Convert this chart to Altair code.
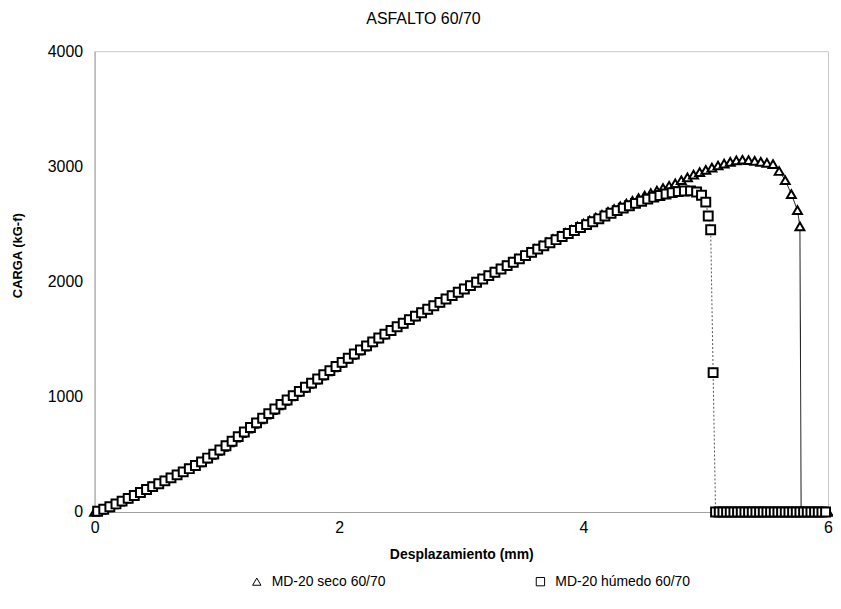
import altair as alt
import pandas as pd

# ---- data ----
grid_x = [
    0.00, 0.05, 0.10, 0.15, 0.20, 0.25, 0.30, 0.35, 0.40, 0.45,
    0.50, 0.55, 0.60, 0.65, 0.70, 0.75, 0.80, 0.85, 0.90, 0.95,
    1.00, 1.05, 1.10, 1.15, 1.20, 1.25, 1.30, 1.35, 1.40, 1.45,
    1.50, 1.55, 1.60, 1.65, 1.70, 1.75, 1.80, 1.85, 1.90, 1.95,
    2.00, 2.05, 2.10, 2.15, 2.20, 2.25, 2.30, 2.35, 2.40, 2.45,
    2.50, 2.55, 2.60, 2.65, 2.70, 2.75, 2.80, 2.85, 2.90, 2.95,
    3.00, 3.05, 3.10, 3.15, 3.20, 3.25, 3.30, 3.35, 3.40, 3.45,
    3.50, 3.55, 3.60, 3.65, 3.70, 3.75, 3.80, 3.85, 3.90, 3.95,
    4.00, 4.05, 4.10, 4.15, 4.20, 4.25, 4.30, 4.35, 4.40, 4.45,
    4.50, 4.55, 4.60, 4.65, 4.70, 4.75, 4.80, 4.85, 4.90, 4.95,
    5.00, 5.05, 5.10, 5.15, 5.20, 5.25, 5.30, 5.35, 5.40, 5.45,
    5.50, 5.55, 5.60, 5.65, 5.70, 5.75,
]

seco_x = grid_x + [5.77, 5.78, 5.80, 5.83, 5.86, 5.89, 5.92, 5.95, 5.98, 6.00]
seco_y = [
    0, 18, 40, 65, 90, 115, 140, 167, 193, 218,
    243, 268, 294, 320, 345, 372, 400, 430, 462, 495,
    530, 566, 605, 645, 685, 724, 764, 804, 844, 884,
    925, 965, 1003, 1040, 1076, 1112, 1148, 1184, 1220, 1256,
    1292, 1328, 1364, 1400, 1436, 1472, 1506, 1540, 1572, 1604,
    1636, 1667, 1698, 1728, 1758, 1788, 1818, 1848, 1877, 1906,
    1935, 1964, 1993, 2022, 2051, 2080, 2109, 2138, 2167, 2196,
    2225, 2254, 2283, 2312, 2340, 2368, 2396, 2423, 2450, 2477,
    2503, 2529, 2555, 2580, 2605, 2630, 2654, 2678, 2701, 2724,
    2746, 2768, 2790, 2811, 2832, 2852, 2880, 2905, 2928, 2950,
    2970, 2990, 3008, 3025, 3040, 3052, 3058, 3055, 3048, 3040,
    3030, 3020, 2960, 2880, 2760, 2620,
    2480, 0, 0, 0, 0, 0, 0, 0, 0, 0,
]

humedo_x = [
    0.025, 0.075, 0.125, 0.175, 0.225, 0.275, 0.325, 0.375, 0.425, 0.475,
    0.525, 0.575, 0.625, 0.675, 0.725, 0.775, 0.825, 0.875, 0.925, 0.975,
    1.025, 1.075, 1.125, 1.175, 1.225, 1.275, 1.325, 1.375, 1.425, 1.475,
    1.525, 1.575, 1.625, 1.675, 1.725, 1.775, 1.825, 1.875, 1.925, 1.975,
    2.025, 2.075, 2.125, 2.175, 2.225, 2.275, 2.325, 2.375, 2.425, 2.475,
    2.525, 2.575, 2.625, 2.675, 2.725, 2.775, 2.825, 2.875, 2.925, 2.975,
    3.025, 3.075, 3.125, 3.175, 3.225, 3.275, 3.325, 3.375, 3.425, 3.475,
    3.525, 3.575, 3.625, 3.675, 3.725, 3.775, 3.825, 3.875, 3.925, 3.975,
    4.025, 4.075, 4.125, 4.175, 4.225, 4.275, 4.325, 4.375, 4.425, 4.475,
    4.525, 4.575, 4.625, 4.675, 4.725, 4.775, 4.825, 4.875, 4.925, 4.965,
    5.000, 5.020, 5.040, 5.060, 5.080,
    5.11, 5.14, 5.17, 5.20, 5.23, 5.26, 5.29, 5.32, 5.35, 5.38,
    5.41, 5.44, 5.47, 5.50, 5.53, 5.56, 5.59, 5.62, 5.65, 5.68,
    5.71, 5.74, 5.77, 5.80, 5.83, 5.86, 5.89, 5.92, 5.95, 5.98,
]
humedo_y = [
    6, 24, 46, 70, 94, 118, 143, 169, 195, 220,
    245, 270, 296, 322, 348, 376, 404, 435, 468, 502,
    538, 575, 614, 654, 694, 734, 774, 814, 854, 894,
    934, 972, 1010, 1047, 1083, 1119, 1155, 1191, 1227, 1263,
    1299, 1335, 1371, 1407, 1442, 1477, 1511, 1544, 1576, 1608,
    1639, 1670, 1700, 1730, 1760, 1790, 1820, 1849, 1878, 1907,
    1936, 1965, 1994, 2023, 2052, 2081, 2110, 2139, 2168, 2197,
    2226, 2254, 2282, 2310, 2337, 2364, 2391, 2418, 2444, 2470,
    2495, 2520, 2545, 2569, 2593, 2616, 2638, 2659, 2679, 2698,
    2716, 2733, 2748, 2761, 2772, 2781, 2787, 2788, 2778, 2750,
    2690, 2570, 2450, 1210, 0,
    0, 0, 0, 0, 0, 0, 0, 0, 0, 0,
    0, 0, 0, 0, 0, 0, 0, 0, 0, 0,
    0, 0, 0, 0, 0, 0, 0, 0, 0, 0,
]

series = ["MD-20 seco 60/70", "MD-20 húmedo 60/70"]
x_ticks = [0, 2, 4, 6]
y_ticks = [0, 1000, 2000, 3000, 4000]

df = pd.concat([
    pd.DataFrame({"serie": series[0], "x": seco_x, "y": seco_y}),
    pd.DataFrame({"serie": series[1], "x": humedo_x, "y": humedo_y}),
], ignore_index=True)
df["linea"] = df["serie"]
df["leyenda"] = df["serie"]

FONT = "Liberation Sans"

x_enc = alt.X("x:Q", scale=alt.Scale(domain=[0, 6], nice=False, zero=True),
              axis=alt.Axis(values=x_ticks, format="d", grid=False, ticks=False,
                            labelFlush=False, labelPadding=8,
                            labelFontSize=16, labelFont=FONT, labelColor="black",
                            domainColor="#a0a0a0", title="Desplazamiento (mm)",
                            titleFont=FONT, titleFontSize=14, titleFontWeight="bold",
                            titleColor="black", titleY=43, titleBaseline="middle"))
y_enc = alt.Y("y:Q", scale=alt.Scale(domain=[0, 4000], nice=False),
              axis=alt.Axis(values=y_ticks, format="d", grid=False, ticks=False,
                            labelFlush=False, labelPadding=12,
                            labelFontSize=16, labelFont=FONT, labelColor="black",
                            domainColor="#a0a0a0", title="CARGA (kG-f)",
                            titleFont=FONT, titleFontSize=13, titleFontWeight="bold",
                            titleColor="black", titleX=-77, titleY=205,
                            titleBaseline="middle", titleAlign="center"))

lines = alt.Chart(df).mark_line(strokeWidth=1, interpolate="linear").encode(
    x=x_enc, y=y_enc,
    color=alt.Color("linea:N", scale=alt.Scale(domain=series, range=["black", "#555555"]), legend=None),
    strokeDash=alt.StrokeDash("linea:N", scale=alt.Scale(domain=series, range=[[1, 0], [2, 2]]), legend=None),
    order=alt.Order("x:Q"),
)

points = alt.Chart(df).mark_point(fill="white", fillOpacity=1, stroke="black",
                                  strokeWidth=2, opacity=1, size=80).encode(
    x="x:Q", y="y:Q",
    shape=alt.Shape("serie:N", scale=alt.Scale(domain=series, range=["triangle-up", "square"]),
                    legend=None),
)

legend_layer = alt.Chart(df).mark_point(
    filled=False, stroke="black", strokeWidth=1, opacity=0).encode(
    x="x:Q", y="y:Q",
    shape=alt.Shape("leyenda:N", scale=alt.Scale(domain=series, range=["triangle-up", "square"]),
                    legend=alt.Legend(title=None, orient="none", legendX=156, legendY=526,
                                      direction="horizontal", symbolSize=70,
                                      symbolOpacity=1, symbolType="circle",
                                      labelFontSize=14, labelFont=FONT, labelColor="black",
                                      labelOffset=8, columnPadding=148,
                                      symbolStrokeWidth=1, symbolStrokeColor="black",
                                      symbolFillColor="white")),
)

chart = alt.layer(lines, points, legend_layer).resolve_scale(
    shape="independent"
).properties(
    width=737, height=463,
    title=alt.TitleParams("ASFALTO 60/70", font=FONT, fontSize=16, fontWeight="normal",
                          color="black", offset=16, dx=-38),
    padding={"left": 87, "top": 42, "right": 5, "bottom": 86},
    autosize=alt.AutoSizeParams(type="none"),
    background="white",
).configure_view(stroke="#c8c8c8")

chart.save("out.html", embed_options={"renderer": "svg", "actions": False})
